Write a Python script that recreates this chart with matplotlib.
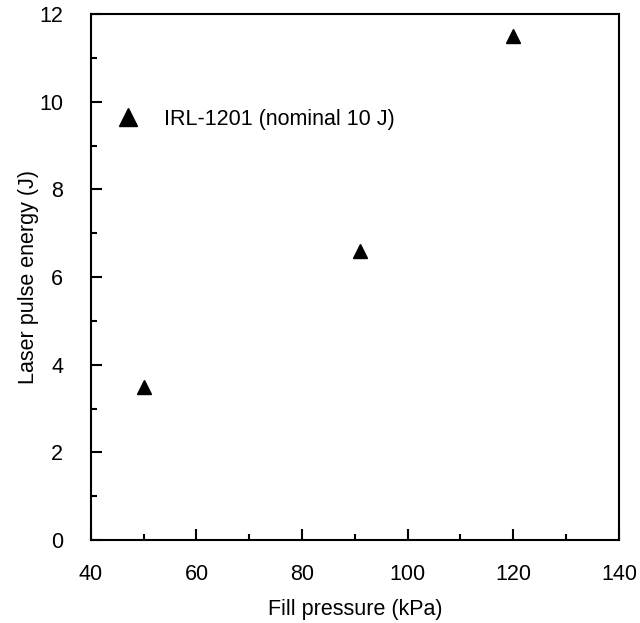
import matplotlib
matplotlib.use("Agg")
import matplotlib.pyplot as plt
from matplotlib.ticker import MultipleLocator

plt.rcParams['font.family'] = ['Liberation Sans', 'DejaVu Sans']

# Laser pulse energy vs. fill pressure
pressure_kpa = [50, 91, 120]
energy_j = [3.5, 6.6, 11.5]
series_label = "IRL-1201 (nominal 10 J)"

FS = 15.5

fig = plt.figure(figsize=(6.4, 6.23), dpi=100)
ax = fig.add_axes([0.142, 0.1332, 0.825, 0.8443])

ax.plot(pressure_kpa, energy_j, linestyle='none', marker='^', color='black',
        markersize=9.4, label=series_label)

ax.set_xlim(40, 140)
ax.set_ylim(0, 12)
ax.xaxis.set_major_locator(MultipleLocator(20))
ax.xaxis.set_minor_locator(MultipleLocator(10))
ax.yaxis.set_major_locator(MultipleLocator(2))
ax.yaxis.set_minor_locator(MultipleLocator(1))

ax.tick_params(which='both', direction='in', top=False, right=False,
               labelsize=FS, width=1.5)
ax.tick_params(which='major', length=8)
ax.tick_params(which='minor', length=4.5)
ax.tick_params(axis='x', pad=17)
ax.tick_params(axis='y', pad=20)
for s in ax.spines.values():
    s.set_linewidth(1.5)

ax.set_xlabel("Fill pressure (kPa)", fontsize=FS, labelpad=10)
ax.set_ylabel("Laser pulse energy (J)", fontsize=FS, labelpad=0)

ax.legend(loc='center left', bbox_to_anchor=(0.013, 0.80), frameon=False,
          fontsize=FS, markerscale=1.35, handletextpad=0.67, borderaxespad=0.0)

fig.savefig("out.png", dpi=100)
